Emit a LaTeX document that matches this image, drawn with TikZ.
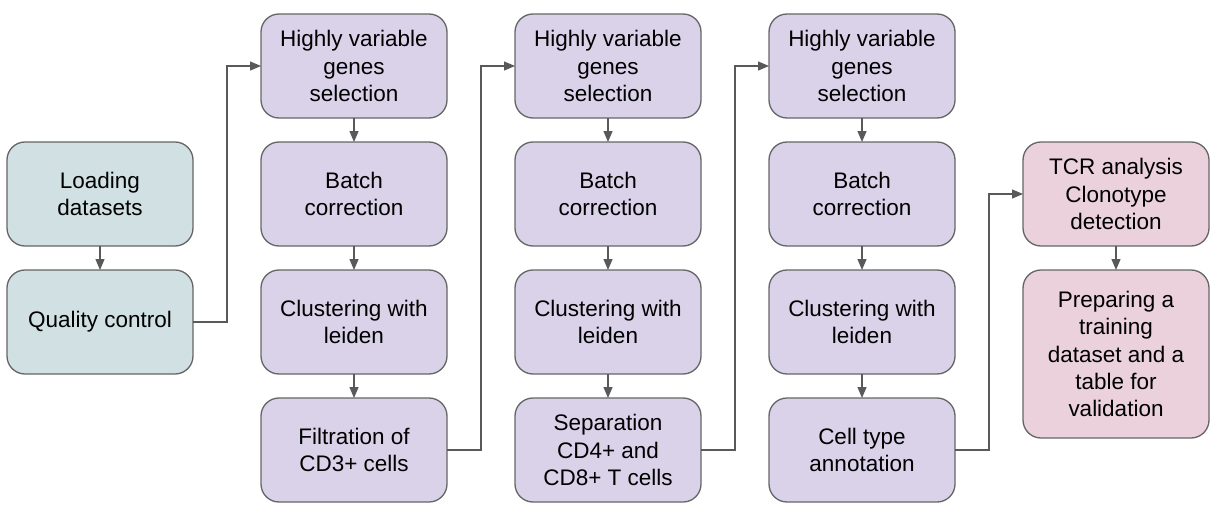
\documentclass[tikz,border=0pt]{standalone}
\usepackage{fontspec}
\setmainfont{Liberation Sans}
\usetikzlibrary{positioning, arrows.meta}

\definecolor{boxline}{HTML}{666666}
\definecolor{arrowline}{HTML}{595959}
\definecolor{tealfill}{HTML}{D0E0E3}
\definecolor{purplefill}{HTML}{D9D2E9}
\definecolor{pinkfill}{HTML}{EAD1DC}

\tikzset{
  stage/.style={draw=boxline, line width=0.75pt, rounded corners=0.36cm,
    minimum width=3.72cm, minimum height=2.08cm, align=center, outer sep=0pt,
    font=\fontsize{12.8}{15.4}\selectfont},
  loadbox/.style={stage, fill=tealfill},
  procbox/.style={stage, fill=purplefill},
  tcrbox/.style={stage, fill=pinkfill},
  flow/.style={draw=arrowline, line width=0.7pt,
    -{Triangle[length=0.22cm, width=0.18cm]}}
}

\begin{document}
\begin{tikzpicture}
  \useasboundingbox (0, 0) rectangle (24.4, -10.24);

  % loading and QC
  \node[loadbox] (load) at (2.0, -3.88) {Loading\\datasets};
  \node[loadbox, below=0.48cm of load] (qc) {Quality control};

  % first pass
  \node[procbox] (hvgA) at (7.08, -1.32) {Highly variable\\genes\\selection};
  \node[procbox, below=0.48cm of hvgA] (batchA) {Batch\\correction};
  \node[procbox, below=0.48cm of batchA] (clustA) {Clustering with\\leiden};
  \node[procbox, below=0.48cm of clustA] (filt) {Filtration of\\CD3+ cells};

  % second pass
  \node[procbox, right=1.36cm of hvgA] (hvgB) {Highly variable\\genes\\selection};
  \node[procbox, below=0.48cm of hvgB] (batchB) {Batch\\correction};
  \node[procbox, below=0.48cm of batchB] (clustB) {Clustering with\\leiden};
  \node[procbox, below=0.48cm of clustB] (sep) {Separation\\CD4+ and\\CD8+ T cells};

  % third pass
  \node[procbox, right=1.36cm of hvgB] (hvgC) {Highly variable\\genes\\selection};
  \node[procbox, below=0.48cm of hvgC] (batchC) {Batch\\correction};
  \node[procbox, below=0.48cm of batchC] (clustC) {Clustering with\\leiden};
  \node[procbox, below=0.48cm of clustC] (annot) {Cell type\\annotation};

  % TCR
  \node[tcrbox, right=1.36cm of batchC] (tcr) {TCR analysis\\Clonotype\\detection};
  \node[tcrbox, below=0.48cm of tcr, minimum height=3.36cm] (prep)
    {Preparing a\\training\\dataset and a\\table for\\validation};

  \draw[flow] (load) -- (qc);
  \foreach \a/\b in {hvgA/batchA, batchA/clustA, clustA/filt,
                     hvgB/batchB, batchB/clustB, clustB/sep,
                     hvgC/batchC, batchC/clustC, clustC/annot, tcr/prep}
    \draw[flow] (\a) -- (\b);

  % elbow links between columns
  \draw[flow] (qc.east) -- ++(0.68, 0) |- (hvgA.west);
  \draw[flow] (filt.east) -- ++(0.68, 0) |- (hvgB.west);
  \draw[flow] (sep.east) -- ++(0.68, 0) |- (hvgC.west);
  \draw[flow] (annot.east) -- ++(0.68, 0) |- (tcr.west);
\end{tikzpicture}
\end{document}
